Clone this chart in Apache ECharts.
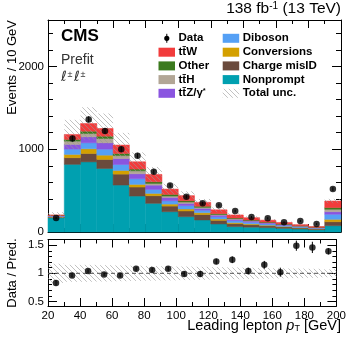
<!DOCTYPE html>
<html>
<head>
<meta charset="utf-8">
<script src="https://cdn.jsdelivr.net/npm/echarts@6/dist/echarts.min.js"></script>
<style>
  html, body { margin: 0; padding: 0; background: #fff; }
  #main { width: 349px; height: 343px; }
</style>
</head>
<body>
<div id="main"></div>
<script>
// bin lower edges (GeV), width 10, last bin holds overflow
var binLo = [20, 30, 40, 50, 60, 70, 80, 90, 100, 110, 120, 130, 140, 150, 160, 170, 180, 190];
var binCenter = [25, 35, 45, 55, 65, 75, 85, 95, 105, 115, 125, 135, 145, 155, 165, 175, 185, 195];

// stacked predictions, bottom to top
var nonprompt = [172, 817, 847, 767, 567, 434, 346, 245, 185, 145, 97, 65, 58, 52, 44, 36, 28, 76];
var chargeMisID = [8, 80, 101, 109, 132, 109, 92, 68, 69, 66, 44, 36, 30, 22, 17, 12, 9, 48];
var conversions = [4, 40, 57, 52, 44, 32, 28, 24, 24, 22, 16, 12, 10, 8, 6, 5, 4, 29];
var diboson = [7, 64, 72, 72, 72, 68, 48, 40, 40, 30, 26, 24, 20, 17, 13, 10, 7, 61];
var ttZ = [6, 57, 72, 77, 72, 60, 52, 41, 28, 22, 20, 16, 14, 11, 9, 7, 5, 31];
var ttH = [2, 39, 40, 52, 36, 36, 20, 16, 16, 12, 8, 8, 6, 5, 4, 3, 2, 29];
var other = [2, 21, 28, 28, 25, 21, 20, 20, 16, 14, 11, 8, 7, 5, 4, 3, 2, 20];
var ttW = [4, 60, 93, 93, 102, 88, 89, 64, 61, 47, 46, 37, 28, 23, 18, 13, 9, 80];

// relative total uncertainty per bin
var totalUnc = [0.17, 0.15, 0.15, 0.145, 0.14, 0.135, 0.13, 0.125, 0.12, 0.115, 0.11, 0.105, 0.1, 0.095, 0.09, 0.085, 0.08, 0.07];

var dataVals = [169, 1128, 1360, 1220, 1000, 920, 727, 563, 426, 346, 322, 253, 180, 165, 117, 133, 96, 518];
var dataErr = [13, 34, 37, 35, 32, 30, 27, 24, 21, 19, 18, 16, 13, 13, 11, 12, 10, 23];
var ratioVals = [0.83, 0.96, 1.04, 0.98, 0.96, 1.08, 1.06, 1.08, 0.99, 0.99, 1.21, 1.24, 1.04, 1.15, 1.02, 1.49, 1.46, 1.39];
var ratioErr = [0.05, 0.03, 0.03, 0.03, 0.03, 0.03, 0.035, 0.04, 0.045, 0.05, 0.05, 0.06, 0.06, 0.07, 0.08, 0.09, 0.1, 0.055];

// ticks
var xMajorTicks = [20, 40, 60, 80, 100, 120, 140, 160, 180, 200];
var xMinorTicks = [30, 50, 70, 90, 110, 130, 150, 170, 190];
var yMainMajor = [0, 1000, 2000];
var yMainMinor = [200, 400, 600, 800, 1200, 1400, 1600, 1800, 2200, 2400];
var yRatioMajor = [0.5, 1, 1.5];
var yRatioMinor = [0.6, 0.7, 0.8, 0.9, 1.1, 1.2, 1.3, 1.4, 1.6];

var components = [
  { name: 'Nonprompt', vals: nonprompt, color: '#00a0b0' },
  { name: 'Charge misID', vals: chargeMisID, color: '#6a4a3c' },
  { name: 'Conversions', vals: conversions, color: '#d4a000' },
  { name: 'Diboson', vals: diboson, color: '#55a0f5' },
  { name: 'ttZ', vals: ttZ, color: '#8a55e0' },
  { name: 'ttH', vals: ttH, color: '#b2a696' },
  { name: 'Other', vals: other, color: '#3b7a1e' },
  { name: 'ttW', vals: ttW, color: '#f23c3c' }
];

function hatch(color, w) {
  var s = 5;
  var c = document.createElement('canvas');
  c.width = s; c.height = s;
  var g = c.getContext('2d');
  g.strokeStyle = color;
  g.lineWidth = w;
  g.beginPath();
  g.moveTo(-1, -1); g.lineTo(s + 1, s + 1);
  g.moveTo(-1, s - 1); g.lineTo(1, s + 1);
  g.moveTo(s - 1, -1); g.lineTo(s + 1, 1);
  g.stroke();
  return { image: c, repeat: 'repeat' };
}
var hatchFill = hatch('rgba(150,150,150,0.65)', 0.9);

function rectRender(fill, solid) {
  return function (params, api) {
    var a = api.coord([api.value(0), api.value(3)]);
    var b = api.coord([api.value(1), api.value(2)]);
    return {
      type: 'rect',
      shape: { x: a[0], y: a[1], width: b[0] - a[0], height: b[1] - a[1] },
      style: solid ? { fill: fill, stroke: fill, lineWidth: 0.5 } : { fill: fill }
    };
  };
}

function errRender(params, api) {
  var a = api.coord([api.value(0), api.value(1)]);
  var b = api.coord([api.value(0), api.value(2)]);
  return { type: 'line', shape: { x1: a[0], y1: a[1], x2: b[0], y2: b[1] }, style: { stroke: '#000', lineWidth: 1 } };
}

var series = [];
var base = binLo.map(function () { return 0; });
components.forEach(function (c) {
  var d = binLo.map(function (lo, i) {
    var item = [lo, lo + 10, base[i], base[i] + c.vals[i]];
    base[i] += c.vals[i];
    return item;
  });
  series.push({
    type: 'custom', name: c.name, xAxisIndex: 0, yAxisIndex: 0,
    renderItem: rectRender(c.color, true), encode: { x: [0, 1], y: [2, 3] }, data: d, silent: true
  });
});
// uncertainty band on the stack
series.push({
  type: 'custom', xAxisIndex: 0, yAxisIndex: 0, renderItem: rectRender(hatchFill, false),
  encode: { x: [0, 1], y: [2, 3] }, silent: true, z: 3,
  data: binLo.map(function (lo, i) { return [lo, lo + 10, base[i] * (1 - totalUnc[i]), base[i] * (1 + totalUnc[i])]; })
});
series.push({
  type: 'custom', xAxisIndex: 0, yAxisIndex: 0, renderItem: errRender, encode: { x: 0, y: [1, 2] }, z: 4,
  data: binCenter.map(function (x, i) { return [x, dataVals[i] - dataErr[i], dataVals[i] + dataErr[i]]; })
});
series.push({
  type: 'scatter', xAxisIndex: 0, yAxisIndex: 0, symbol: 'circle', symbolSize: 6.5, z: 5,
  itemStyle: { color: '#000' }, data: binCenter.map(function (x, i) { return [x, dataVals[i]]; })
});

// ratio panel
series.push({
  type: 'custom', xAxisIndex: 4, yAxisIndex: 4, renderItem: rectRender(hatchFill, false),
  encode: { x: [0, 1], y: [2, 3] }, silent: true,
  data: binLo.map(function (lo, i) { return [lo, lo + 10, 1 - totalUnc[i], 1 + totalUnc[i]]; })
});
series.push({
  type: 'line', xAxisIndex: 4, yAxisIndex: 4, symbol: 'none', silent: true,
  lineStyle: { color: '#555', width: 1, type: [4, 3] }, data: [[20, 1], [200, 1]]
});
series.push({
  type: 'custom', xAxisIndex: 4, yAxisIndex: 4, renderItem: errRender, encode: { x: 0, y: [1, 2] }, z: 4,
  data: binCenter.map(function (x, i) { return [x, ratioVals[i] - ratioErr[i], ratioVals[i] + ratioErr[i]]; })
});
series.push({
  type: 'scatter', xAxisIndex: 4, yAxisIndex: 4, symbol: 'circle', symbolSize: 6.5, z: 5,
  itemStyle: { color: '#000' }, data: binCenter.map(function (x, i) { return [x, ratioVals[i]]; })
});

var lab = { color: '#000', fontFamily: 'Liberation Sans', fontSize: 11.5, formatter: function (v) { return String(v); } };

function axis(kind, grid, pos, min, max, ticks, len, line, labels) {
  var a = {
    type: 'value', gridIndex: grid, position: pos, min: min, max: max,
    axisLine: { show: line, onZero: false, lineStyle: { color: '#000', width: 1 } },
    axisTick: { show: true, inside: true, length: len, customValues: ticks, lineStyle: { color: '#000', width: 1 } },
    axisLabel: { show: !!labels, customValues: ticks, margin: 4 },
    splitLine: { show: false }
  };
  if (labels) Object.assign(a.axisLabel, lab);
  return a;
}

var xAxes = [
  axis('x', 0, 'bottom', 20, 200, xMajorTicks, 8, true, false),
  axis('x', 0, 'bottom', 20, 200, xMinorTicks, 4, false, false),
  axis('x', 0, 'top', 20, 200, xMajorTicks, 8, true, false),
  axis('x', 0, 'top', 20, 200, xMinorTicks, 4, false, false),
  axis('x', 1, 'bottom', 20, 200, xMajorTicks, 8, true, true),
  axis('x', 1, 'bottom', 20, 200, xMinorTicks, 4, false, false),
  axis('x', 1, 'top', 20, 200, xMajorTicks, 8, true, false),
  axis('x', 1, 'top', 20, 200, xMinorTicks, 4, false, false)
];
var yAxes = [
  axis('y', 0, 'left', 0, 2560, yMainMajor, 9, true, true),
  axis('y', 0, 'left', 0, 2560, yMainMinor, 5, false, false),
  axis('y', 0, 'right', 0, 2560, yMainMajor, 9, true, false),
  axis('y', 0, 'right', 0, 2560, yMainMinor, 5, false, false),
  axis('y', 1, 'left', 0.42, 1.6, yRatioMajor, 9, true, true),
  axis('y', 1, 'left', 0.42, 1.6, yRatioMinor, 4, false, false),
  axis('y', 1, 'right', 0.42, 1.6, yRatioMajor, 9, true, false),
  axis('y', 1, 'right', 0.42, 1.6, yRatioMinor, 4, false, false)
];

// legend
var legendRows = [38.3, 52.2, 65.9, 79.6, 93.3];
var legendItems = [
  { col: 0, row: 0, text: 'Data', data: true },
  { col: 0, row: 1, text: 'tt\u0304W', color: '#f23c3c' },
  { col: 0, row: 2, text: 'Other', color: '#3b7a1e' },
  { col: 0, row: 3, text: 'tt\u0304H', color: '#b2a696' },
  { col: 0, row: 4, text: '{b|tt\u0304Z/\u03b3}{s|*}', color: '#8a55e0' },
  { col: 1, row: 0, text: 'Diboson', color: '#55a0f5' },
  { col: 1, row: 1, text: 'Conversions', color: '#d4a000' },
  { col: 1, row: 2, text: 'Charge misID', color: '#6a4a3c' },
  { col: 1, row: 3, text: 'Nonprompt', color: '#00a0b0' },
  { col: 1, row: 4, text: 'Total unc.', hatch: true }
];
var font = 'Liberation Sans';
var graphic = [];
legendItems.forEach(function (it) {
  var x0 = it.col === 0 ? 158.5 : 222.7;
  var y = legendRows[it.row];
  if (it.data) {
    graphic.push({ type: 'line', shape: { x1: x0 + 8.3, y1: y - 4.5, x2: x0 + 8.3, y2: y + 4.5 }, style: { stroke: '#000', lineWidth: 1 } });
    graphic.push({ type: 'circle', shape: { cx: x0 + 8.3, cy: y, r: 2.6 }, style: { fill: '#000' } });
  } else {
    graphic.push({ type: 'rect', shape: { x: x0, y: y - 4.5, width: 16.5, height: 9 }, style: { fill: it.hatch ? hatchFill : it.color } });
  }
  graphic.push({
    type: 'text', x: x0 + 20, y: y,
    style: {
      text: it.text, fill: '#000', font: 'bold 11.5px ' + font, textVerticalAlign: 'middle',
      rich: {
        b: { fontFamily: font, fontWeight: 'bold', fontSize: 11.5, lineHeight: 12, verticalAlign: 'bottom' },
        s: { fontFamily: font, fontWeight: 'bold', fontSize: 7.5, lineHeight: 8, verticalAlign: 'top' }
      }
    }
  });
});

// lepton charge label, drawn glyph by glyph
var ellX = [61, 74];
ellX.forEach(function (x) {
  graphic.push({ type: 'text', x: x, y: 84, style: { text: '\u2113', font: 'italic 14px DejaVu Sans', fill: '#333', textVerticalAlign: 'bottom' } });
  graphic.push({ type: 'text', x: x + 6.5, y: 79, style: { text: '\u00b1', font: '9px ' + font, fill: '#333', textVerticalAlign: 'bottom' } });
});

graphic.push(
  { type: 'text', x: 341, y: 17, style: {
    text: '{n|138 fb}{s|-1}{n| (13 TeV)}', textAlign: 'right', textVerticalAlign: 'bottom',
    rich: {
      n: { fontFamily: font, fontSize: 15.5, lineHeight: 16, verticalAlign: 'bottom', fill: '#000' },
      s: { fontFamily: font, fontSize: 10, lineHeight: 10, verticalAlign: 'top', fill: '#000' }
    } } },
  { type: 'text', x: 61, y: 44.5, style: { text: 'CMS', font: 'bold 17px ' + font, fill: '#000', textVerticalAlign: 'bottom' } },
  { type: 'text', x: 61, y: 67, style: { text: 'Prefit', font: '14px ' + font, fill: '#333', textVerticalAlign: 'bottom' } },
  { type: 'text', x: 12, y: 20, rotation: Math.PI / 2, style: { text: 'Events / 10 GeV', font: '13px ' + font, fill: '#000', textAlign: 'right', textVerticalAlign: 'middle' } },
  { type: 'text', x: 12, y: 273, rotation: Math.PI / 2, style: { text: 'Data / Pred.', font: '13px ' + font, fill: '#000', textAlign: 'center', textVerticalAlign: 'middle' } },
  { type: 'text', x: 341, y: 318.5, style: {
    text: '{n|Leading lepton }{i|p}{s|T}{n| [GeV]}', textAlign: 'right', textVerticalAlign: 'top',
    rich: {
      n: { fontFamily: font, fontSize: 14.5, lineHeight: 15, verticalAlign: 'top', fill: '#000' },
      i: { fontFamily: font, fontStyle: 'italic', fontSize: 14.5, lineHeight: 15, verticalAlign: 'top', fill: '#000' },
      s: { fontFamily: font, fontSize: 9, lineHeight: 9, padding: [10, 0, 0, 0], verticalAlign: 'bottom', fill: '#000' }
    } } }
);

var chart = echarts.init(document.getElementById('main'), null, { renderer: 'canvas' });
chart.setOption({
  animation: false,
  backgroundColor: '#fff',
  grid: [
    { left: 48, right: 8, top: 20, height: 212 },
    { left: 48, right: 8, top: 239.5, height: 66.5 }
  ],
  xAxis: xAxes,
  yAxis: yAxes,
  series: series,
  graphic: graphic
});
</script>
</body>
</html>
